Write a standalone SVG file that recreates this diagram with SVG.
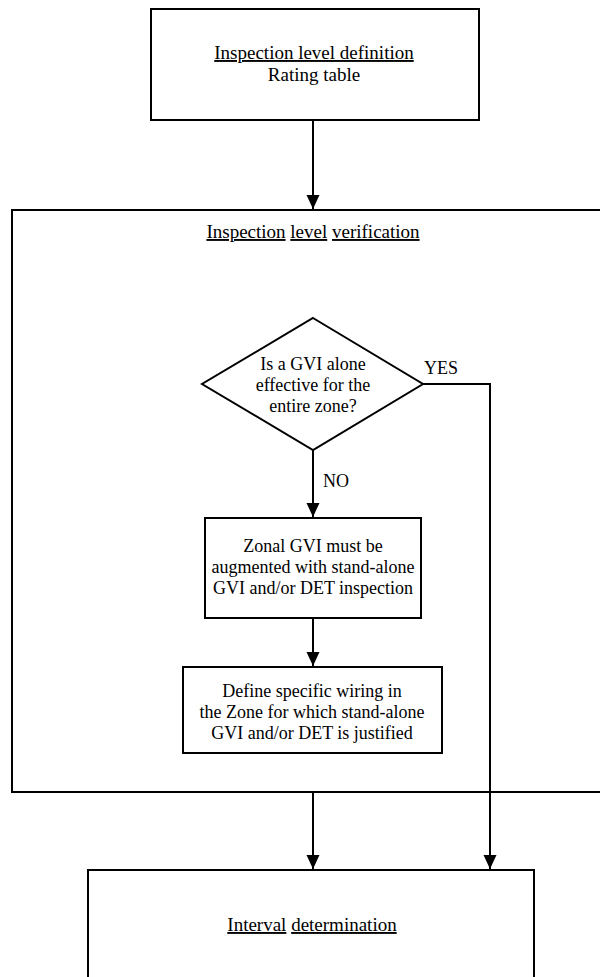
<svg xmlns="http://www.w3.org/2000/svg" width="600" height="977" viewBox="0 0 600 977" font-family="'Liberation Serif', 'Tinos', 'DejaVu Serif', serif">
<defs>
<marker id="arr" markerUnits="userSpaceOnUse" markerWidth="14" markerHeight="14" viewBox="0 0 14 14" refX="14" refY="7" orient="auto">
<path d="M0,0.5 L14,7 L0,13.5 z" fill="#000"/>
</marker>
</defs>
<style>
.box{fill:#fff;stroke:#000;stroke-width:2}
text{font-family:'Liberation Serif','Tinos','DejaVu Serif',serif;fill:#000}
.t{text-anchor:middle;font-size:19px}
.s{font-size:18px}
.lab{font-size:18px}
.u{text-decoration:underline}
.c{fill:none;stroke:#000;stroke-width:2}
</style>
<g id="verification">
<rect class="box" x="12" y="210" width="600" height="582"/>
<text class="t" x="313" y="238"><tspan class="u">Inspection</tspan> <tspan class="u">level</tspan> <tspan class="u">verification</tspan></text>
</g>
<g id="definition">
<rect class="box" x="151" y="9" width="328" height="111"/>
<text class="t" x="314" y="59"><tspan class="u">Inspection level definition</tspan></text>
<text class="t" x="314" y="81">Rating table</text>
</g>
<g id="decision">
<polygon class="box" points="313,318 423,384 313,450 202,384"/>
<text class="t s" x="313" y="370">Is a GVI alone</text>
<text class="t s" x="313" y="391">effective for the</text>
<text class="t s" x="313" y="412">entire zone?</text>
</g>
<g id="augment">
<rect class="box" x="205" y="518" width="216" height="100"/>
<text class="t s" x="313" y="552">Zonal GVI must be</text>
<text class="t s" x="313" y="573">augmented with stand-alone</text>
<text class="t s" x="313" y="594">GVI and/or DET inspection</text>
</g>
<g id="wiring">
<rect class="box" x="183" y="667" width="259" height="86"/>
<text class="t s" x="312" y="697">Define specific wiring in</text>
<text class="t s" x="312" y="718">the Zone for which stand-alone</text>
<text class="t s" x="312" y="739">GVI and/or DET is justified</text>
</g>
<g id="interval">
<rect class="box" x="88" y="870" width="446" height="120"/>
<text class="t" x="312" y="931"><tspan class="u">Interval</tspan> <tspan class="u">determination</tspan></text>
</g>
<g id="connectors">
<line class="c" x1="313" y1="120" x2="313" y2="209" marker-end="url(#arr)"/>
<line class="c" x1="313" y1="450" x2="313" y2="517" marker-end="url(#arr)"/>
<line class="c" x1="313" y1="618" x2="313" y2="666" marker-end="url(#arr)"/>
<line class="c" x1="313" y1="792" x2="313" y2="869" marker-end="url(#arr)"/>
<polyline class="c" points="423,384 490,384 490,869" marker-end="url(#arr)"/>
<text class="lab" x="323" y="487">NO</text>
<text class="lab" x="424" y="374">YES</text>
</g>
</svg>
